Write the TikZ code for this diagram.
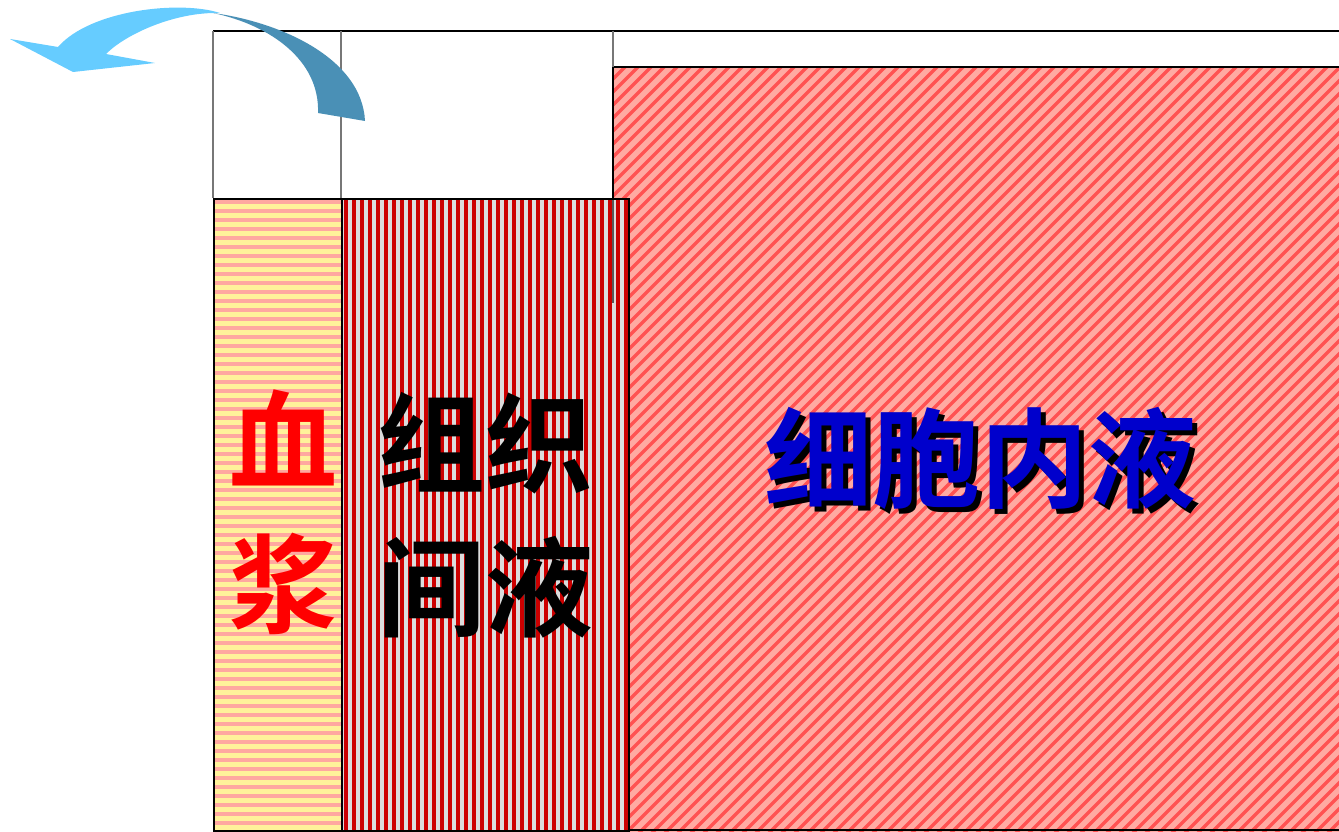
\documentclass[tikz,border=0pt]{standalone}
\usepackage{fontspec}
\newfontfamily\cjk{Noto Sans CJK SC Bold}
\definecolor{plpink}{HTML}{FFA8A0}
\definecolor{plyellow}{HTML}{FFF29A}
\definecolor{isred}{HTML}{CC0000}
\definecolor{isgray}{HTML}{DCDCDC}
\definecolor{icpink}{HTML}{FFAAA2}
\definecolor{icred}{HTML}{FF5252}
\definecolor{lightarrow}{HTML}{66CCFF}
\definecolor{darkarrow}{HTML}{4A90B6}
\definecolor{tgray}{HTML}{777777}
\definecolor{textblue}{HTML}{0000CC}
\begin{document}
\begin{tikzpicture}[x=1pt,y=-1pt,
  boxborder/.style={draw=black,line width=2.4pt},
  tableline/.style={draw=tgray,line width=1.3pt},
  bigtext/.style={font=\cjk\fontsize{108}{144}\selectfont,align=center,inner sep=0pt}]
\useasboundingbox (0,0) rectangle (1339,832);
% intracellular box
\begin{scope}
  \clip (613,67) rectangle (1345,836);
  \fill[icpink] (613,67) rectangle (1345,836);
  \foreach \c in {-200,-187,...,1360} {
    \draw[icred,line width=3.4pt] (\c,840) -- ++(820,-820);
  }
\end{scope}
\draw[boxborder] (1345,67) -- (613,67) -- (613,836);
\draw[boxborder] (613,830) -- (1345,830);
% plasma box
\begin{scope}
  \clip (213,198) rectangle (341,830);
  \fill[plyellow] (213,198) rectangle (341,830);
  \foreach \r in {202,211,...,830} {
    \draw[plpink,line width=4.5pt] (210,\r) -- (345,\r);
  }
\end{scope}
% interstitial box
\begin{scope}
  \clip (341,198) rectangle (628,830);
  \fill[isgray] (341,198) rectangle (628,830);
  \foreach \c in {346,354,...,630} {
    \draw[isred,line width=4pt] (\c,195) -- (\c,835);
  }
\end{scope}
\node[boxborder,minimum width=128pt,minimum height=632pt,inner sep=0pt,anchor=north west] (plasma) at (213,198) {};
\node[boxborder,minimum width=287pt,minimum height=632pt,inner sep=0pt,anchor=north west] (inter) at (341,198) {};
\coordinate (intraNW) at (613,67);
% table lines
\coordinate (t0) at (213,31);
\coordinate (t1) at (1339,31);
\draw[draw=black,line width=1.3pt] (t0) -- (t1);
\draw[tableline] (213,31) -- (213,198);
\draw[tableline] (341,31) -- (341,198);
\draw[tableline] (613,31) -- (intraNW);
\draw[draw=black,opacity=0.6,line width=1.3pt] (613,198) -- (613,303);
% texts
\node[bigtext,text=red] (t_plasma) at (283,512) {血\\浆};
\node[bigtext,text=black] (t_inter) at (485,515) {组织\\间液};
\node[bigtext,text=black] (t_intra_sh) at (985,463) {细胞内液};
\node[bigtext,text=textblue] (t_intra) at (980,458) {细胞内液};
% arrows
\fill[lightarrow] (220,13) .. controls (180,0) and (90,10) .. (58,47) -- (10,39) -- (73,72) -- (155,63) -- (106,54) .. controls (125,35) and (170,14) .. (213,13) -- cycle;
\fill[darkarrow] (213,13) .. controls (280,22) and (362,58) .. (365,121) -- (318,113) .. controls (320,60) and (270,25) .. (213,13) -- cycle;
\end{tikzpicture}
\end{document}
